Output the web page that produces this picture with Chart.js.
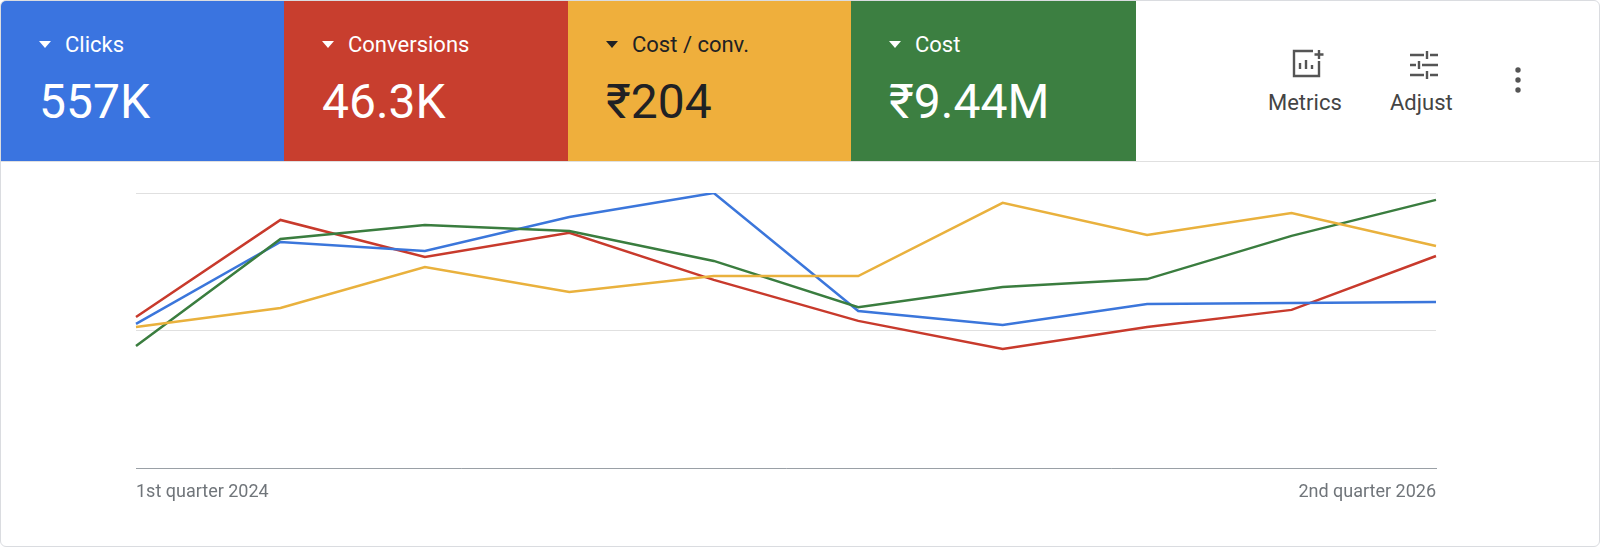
<!DOCTYPE html>
<html><head><meta charset="utf-8">
<script src="https://cdn.jsdelivr.net/npm/chart.js@4.4.0/dist/chart.umd.min.js"></script>
<style>
body{margin:0;background:#fff;font-family:Roboto,"Noto Sans",sans-serif;}
.card{position:absolute;left:0;top:0;width:1598px;height:545px;border:1px solid #dadce0;border-radius:6px;overflow:hidden;}
.tile{position:absolute;top:0;height:160px;width:284px;color:#fff;}
.tile .n{position:absolute;left:38px;top:31px;font-size:22px;}
.tile .v{position:absolute;left:38px;top:72px;font-size:48px;}
.tri{display:inline-block;width:0;height:0;border-left:6px solid transparent;border-right:6px solid transparent;border-top:7px solid currentColor;margin-right:14px;vertical-align:4px;}
.hdr{position:absolute;left:0;top:160px;width:1600px;border-top:1px solid #e0e0e0;}
.btn{position:absolute;top:89px;font-size:22px;color:#444;}
#wrap{position:absolute;left:0;top:160px;width:1600px;height:345px;}
</style></head><body>
<div class="card">
<div class="tile" style="left:0;background:#3a74e0"><div class="n"><span class="tri"></span>Clicks</div><div class="v">557K</div></div>
<div class="tile" style="left:283px;background:#c83e2e"><div class="n"><span class="tri"></span>Conversions</div><div class="v">46.3K</div></div>
<div class="tile" style="left:567px;background:#efaf3c;color:#202124"><div class="n"><span class="tri"></span>Cost / conv.</div><div class="v">₹204</div></div>
<div class="tile" style="left:850px;background:#3c7f41;width:285px"><div class="n"><span class="tri"></span>Cost</div><div class="v">₹9.44M</div></div>
<svg style="position:absolute;left:1290px;top:48px" width="34" height="30" viewBox="0 0 34 30" fill="none" stroke="#555" stroke-width="2.4"><path d="M22 2H3v25h25V12"/><path d="M9 20v-6M15 20v-9M21 20v-4"/><path d="M28 1v9M23.5 5.5h9"/></svg>
<div class="btn" style="left:1267px">Metrics</div>
<svg style="position:absolute;left:1407px;top:50px" width="32" height="28" viewBox="0 0 32 28" stroke="#555" stroke-width="2.4"><path d="M2 4h14M22 4h8M19 0v8M2 14h6M14 14h16M11 10v8M2 24h14M22 24h8M19 20v8"/></svg>
<div class="btn" style="left:1389px">Adjust</div>
<svg style="position:absolute;left:1510px;top:66px" width="14" height="28"><circle cx="7" cy="3" r="2.7" fill="#555"/><circle cx="7" cy="13" r="2.7" fill="#555"/><circle cx="7" cy="23" r="2.7" fill="#555"/></svg>
<div class="hdr"></div>
<div id="wrap"><canvas id="c"></canvas></div>
</div>
<script>
const quarters = ["1st quarter 2024","2nd quarter 2024","3rd quarter 2024","4th quarter 2024","1st quarter 2025","2nd quarter 2025","3rd quarter 2025","4th quarter 2025","1st quarter 2026","2nd quarter 2026"];
const clicks = [52.4, 82.2, 78.9, 91.3, 100, 57.1, 52, 59.6, 60, 60.4];
const conversions = [54.9, 90.2, 76.7, 85.5, 68.4, 53.5, 43.3, 51.3, 57.5, 77.1];
const costPerConv = [51.3, 58.2, 73.1, 64, 69.8, 69.8, 96.4, 84.7, 92.7, 80.7];
const cost = [44.4, 83.3, 88.4, 86.2, 75.3, 58.5, 65.8, 68.7, 84.4, 97.5];

const line = (label, data, color) => ({label, data, borderColor: color, borderWidth: 2.5, pointRadius: 0, tension: 0, fill: false});

new Chart(document.getElementById("c"), {
    type: "line",
    data: {
        labels: quarters,
        datasets: [
            line("Cost / conv.", costPerConv, "#e9b13d"),
            line("Cost", cost, "#3a7d3f"),
            line("Clicks", clicks, "#3b76db"),
            line("Conversions", conversions, "#c83a2c"),
        ]
    },
    options: {
        responsive: true,
        maintainAspectRatio: false,
        animation: false,
        layout: { padding: { left: 135, right: 165, top: 32, bottom: 0 } },
        plugins: { legend: { display: false }, tooltip: { enabled: false } },
        scales: {
            x: {
                grid: { display: false },
                border: { color: "#9aa0a6" },
                afterFit: s => { s.height = 38; },
                ticks: {
                    autoSkip: false, maxRotation: 0, align: "inner", padding: 6,
                    color: "#70757a", font: { size: 18, family: "Roboto" },
                    callback: (v, i) => (i === 0 || i === quarters.length - 1) ? quarters[i] : "",
                },
            },
            y: {
                min: 0, max: 100,
                afterFit: s => { s.width = 0; },
                ticks: { display: false, stepSize: 50 },
                grid: { color: "#e0e0e0", drawTicks: false },
                border: { display: false },
            }
        }
    }
});
</script>
</body></html>
